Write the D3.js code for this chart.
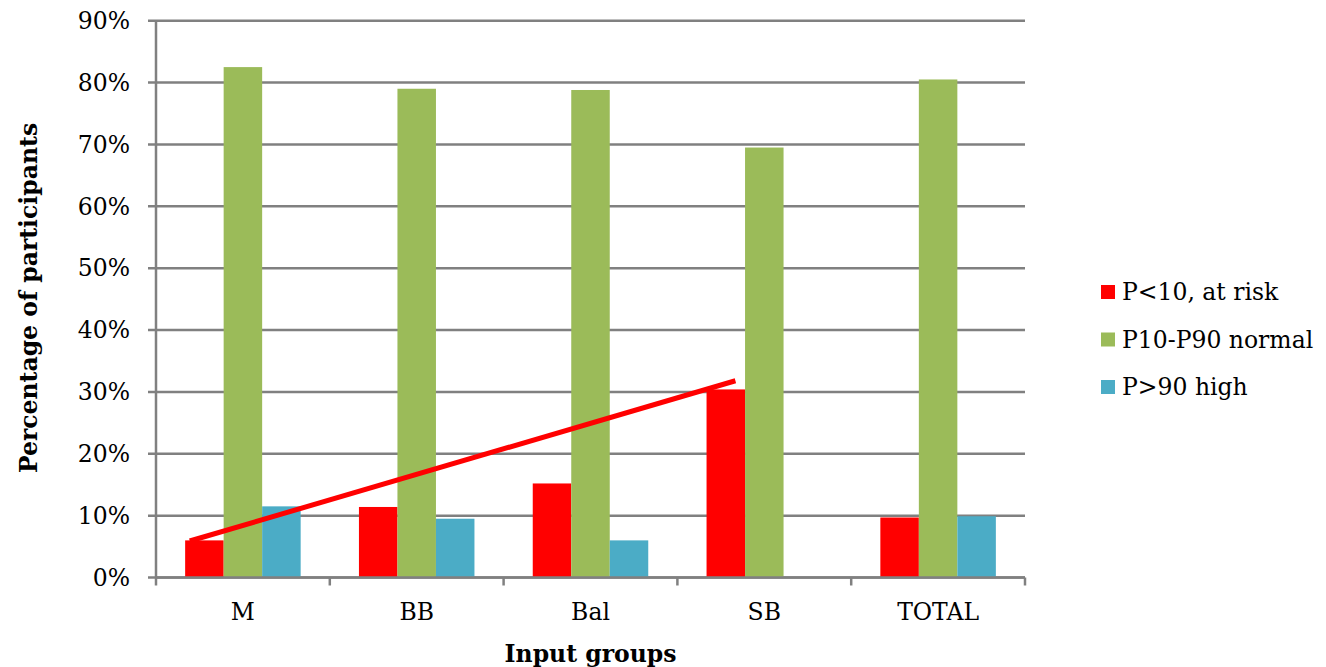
<!DOCTYPE html>
<html>
<head>
<meta charset="utf-8">
<script src="https://cdn.jsdelivr.net/npm/d3@7"></script>
<style>
  body { margin: 0; background: #fff; }
  text { font-family: "DejaVu Serif", "Liberation Serif", serif; fill: #000; }
</style>
</head>
<body>
<div id="chart"></div>
<script>
// data
const groups = ["M", "BB", "Bal", "SB", "TOTAL"];
const seriesNames = ["P<10, at risk", "P10-P90 normal", "P>90 high"];
const atRisk = [6.0, 11.4, 15.2, 30.4, 9.7];
const normal = [82.5, 79.0, 78.8, 69.5, 80.5];
const high = [11.5, 9.5, 6.0, 0, 9.9];
const yTicks = [0, 10, 20, 30, 40, 50, 60, 70, 80, 90];
// hand drawn trend line: from the M group to the SB group
const trendGroups = ["M", "SB"];
const trendValues = [5.9, 31.8];

const colors = ["#FF0000", "#9BBB59", "#4BACC6"];
const series = [atRisk, normal, high];

const width = 1326, height = 667;
const margin = { top: 20.7, right: 301, bottom: 89.5, left: 156 };
const innerW = width - margin.left - margin.right;
const innerH = height - margin.top - margin.bottom;
const fontSize = "23.5px";

const svg = d3.select("#chart").append("svg")
    .attr("width", width)
    .attr("height", height);

const g = svg.append("g")
    .attr("transform", "translate(" + margin.left + "," + margin.top + ")");

// scales
const x = d3.scaleBand()
    .domain(groups)
    .range([0, innerW])
    .paddingInner(0)
    .paddingOuter(0);

const xInner = d3.scaleBand()
    .domain(d3.range(series.length))
    .range([0, x.bandwidth()])
    .paddingOuter(0.757)
    .paddingInner(0);

const y = d3.scaleLinear()
    .domain([0, 90])
    .range([innerH, 0]);

// gridlines
g.append("g")
    .selectAll("line")
    .data(yTicks)
    .join("line")
    .attr("x1", -8)
    .attr("x2", innerW)
    .attr("y1", d => y(d))
    .attr("y2", d => y(d))
    .attr("stroke", "#808080")
    .attr("stroke-width", 2.5);

// y tick labels
g.append("g")
    .selectAll("text")
    .data(yTicks)
    .join("text")
    .attr("x", -26)
    .attr("y", d => y(d))
    .attr("dy", "0.35em")
    .attr("text-anchor", "end")
    .style("font-size", fontSize)
    .text(d => d + "%");

// bars
series.forEach((vals, i) => {
    g.append("g")
        .selectAll("rect")
        .data(vals)
        .join("rect")
        .attr("x", (d, j) => x(groups[j]) + xInner(i))
        .attr("y", d => y(d))
        .attr("width", xInner.bandwidth())
        .attr("height", d => innerH - y(d))
        .attr("fill", colors[i]);
});

// y axis line
g.append("line")
    .attr("x1", 0).attr("x2", 0)
    .attr("y1", 0).attr("y2", innerH)
    .attr("stroke", "#808080")
    .attr("stroke-width", 2.5);

// x axis
const xAxis = d3.axisBottom(x).tickSize(0).tickPadding(26);
const xg = g.append("g")
    .attr("transform", "translate(0," + innerH + ")")
    .call(xAxis);
xg.select(".domain").remove();
xg.selectAll("text")
    .style("font-size", fontSize)
    .style("font-family", "DejaVu Serif, serif");

g.append("line")
    .attr("x1", 0).attr("x2", innerW)
    .attr("y1", innerH).attr("y2", innerH)
    .attr("stroke", "#808080")
    .attr("stroke-width", 2.5);

// category boundary ticks
const bounds = groups.map(d => x(d)).concat([innerW]);
g.append("g")
    .selectAll("line")
    .data(bounds)
    .join("line")
    .attr("x1", d => d).attr("x2", d => d)
    .attr("y1", innerH).attr("y2", innerH + 8)
    .attr("stroke", "#808080")
    .attr("stroke-width", 2.5);

// trend line
const barW = xInner.bandwidth();
g.append("line")
    .attr("x1", x(trendGroups[0]) + xInner(0) + barW * 0.12)
    .attr("x2", x(trendGroups[1]) + xInner(0) + barW * 0.75)
    .attr("y1", y(trendValues[0]))
    .attr("y2", y(trendValues[1]))
    .attr("stroke", "#FF0000")
    .attr("stroke-width", 5);

// axis titles
svg.append("text")
    .attr("x", margin.left + innerW / 2)
    .attr("y", 662)
    .attr("text-anchor", "middle")
    .style("font-size", fontSize)
    .style("font-weight", "bold")
    .text("Input groups");

svg.append("text")
    .attr("transform", "translate(37," + 298 + ") rotate(-90)")
    .attr("text-anchor", "middle")
    .style("font-size", fontSize)
    .style("font-weight", "bold")
    .text("Percentage of participants");

// legend
const legend = svg.append("g")
    .attr("transform", "translate(1101,285)");
const items = legend.selectAll("g")
    .data(seriesNames)
    .join("g")
    .attr("transform", (d, i) => "translate(0," + i * 47.5 + ")");
items.append("rect")
    .attr("width", 14)
    .attr("height", 14)
    .attr("fill", (d, i) => colors[i]);
items.append("text")
    .attr("x", 21)
    .attr("y", 7)
    .attr("dy", "0.35em")
    .style("font-size", fontSize)
    .text(d => d);
</script>
</body>
</html>
